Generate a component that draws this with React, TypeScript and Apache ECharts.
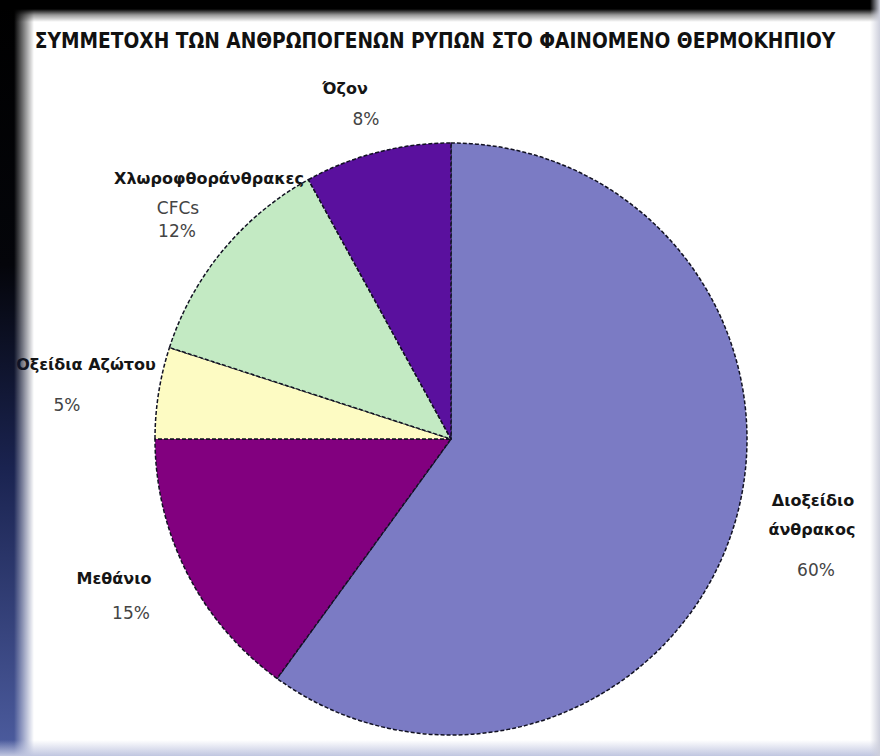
import React, { useEffect, useRef } from "react";
import * as echarts from "echarts";

const titleText = "ΣΥΜΜΕΤΟΧΗ ΤΩΝ ΑΝΘΡΩΠΟΓΕΝΩΝ ΡΥΠΩΝ ΣΤΟ ΦΑΙΝΟΜΕΝΟ ΘΕΡΜΟΚΗΠΙΟΥ";
const categories = ["Διοξείδιο άνθρακος", "Μεθάνιο", "Οξείδια Αζώτου", "Χλωροφθοράνθρακες", "Όζον"];
const nameLines = [["Διοξείδιο", "άνθρακος"], ["Μεθάνιο"], ["Οξείδια Αζώτου"], ["Χλωροφθοράνθρακες"], ["Όζον"]];
const subNames = ["", "", "", "CFCs", ""];
const values = [60, 15, 5, 12, 8];
const colors = ["#7b7bc4", "#82007f", "#fdfbc3", "#c3eac3", "#5a109e"];

// label layout (positions only)
const labelPos = [
  { name: [[813, 500], [812, 529]], pct: [816, 570] },
  { name: [[114, 578]], pct: [131, 613] },
  { name: [[86, 364]], pct: [67, 405] },
  { name: [[209, 178]], sub: [178, 208], pct: [177, 231] },
  { name: [[345, 88]], pct: [366, 119] },
];

export default function App() {
  const ref = useRef<HTMLDivElement>(null);
  useEffect(() => {
    document.body.style.margin = "0";
    const chart = echarts.init(ref.current!, null, { renderer: "svg" });
    const labelFont = "'DejaVu Sans', Verdana, sans-serif";
    const texts: any[] = [];
    categories.forEach((c, i) => {
      const p: any = labelPos[i];
      nameLines[i].forEach((line, j) => {
        texts.push({
          type: "text", x: p.name[j][0], y: p.name[j][1], z: 5,
          style: { text: line, fill: "#151515", font: `bold 16px ${labelFont}`, align: "center", verticalAlign: "middle" },
        });
      });
      if (subNames[i]) {
        texts.push({
          type: "text", x: p.sub[0], y: p.sub[1], z: 5,
          style: { text: subNames[i], fill: "#444", font: `17px ${labelFont}`, align: "center", verticalAlign: "middle" },
        });
      }
      texts.push({
        type: "text", x: p.pct[0], y: p.pct[1], z: 5,
        style: { text: values[i] + "%", fill: "#444", font: `17px ${labelFont}`, align: "center", verticalAlign: "middle" },
      });
    });
    chart.setOption({
      animation: false,
      backgroundColor: "#ffffff",
      title: {
        text: titleText,
        left: 430,
        textAlign: "center",
        top: 25,
        textStyle: {
          fontSize: 20.7,
          fontWeight: "bold",
          color: "#111",
          fontFamily: "'DejaVu Sans Condensed', 'Liberation Sans Narrow', sans-serif",
        },
      },
      graphic: texts,
      series: [
        {
          type: "pie",
          center: [451, 439],
          radius: 296,
          startAngle: 90,
          clockwise: true,
          label: { show: false },
          labelLine: { show: false },
          itemStyle: { borderColor: "#111122", borderWidth: 1.5, borderType: [4, 2] },
          data: categories.map((c, i) => ({ name: c, value: values[i], itemStyle: { color: colors[i] } })),
        },
      ],
    });
    return () => chart.dispose();
  }, []);
  const leftMask = "linear-gradient(to right, #000 0px, #000 14px, rgba(0,0,0,0) 34px)";
  return (
    <div style={{ position: "relative", width: 880, height: 756, overflow: "hidden" }}>
      <div ref={ref} style={{ width: 880, height: 756 }} />
      <div
        style={{
          position: "absolute", left: 0, top: 0, width: 40, height: 756, pointerEvents: "none",
          background: "linear-gradient(to bottom, #000 0%, #04050a 35%, #1a2350 62%, #4d5da0 100%)",
          WebkitMaskImage: leftMask, maskImage: leftMask,
        } as any}
      />
      <div
        style={{
          position: "absolute", left: 0, top: 0, width: 880, height: 22, pointerEvents: "none",
          background: "linear-gradient(to bottom, #000 0px, #000 9px, rgba(0,0,0,0.4) 15px, rgba(0,0,0,0) 22px)",
        }}
      />
      <div
        style={{
          position: "absolute", left: 0, bottom: 0, width: 880, height: 16, pointerEvents: "none",
          background: "linear-gradient(to bottom, rgba(205,210,230,0) 0%, rgba(192,198,224,1) 100%)",
        }}
      />
      <div
        style={{
          position: "absolute", right: 0, top: 0, width: 10, height: 756, pointerEvents: "none",
          background: "linear-gradient(to right, rgba(215,217,226,0) 0%, rgba(205,207,220,1) 100%)",
        }}
      />
    </div>
  );
}
